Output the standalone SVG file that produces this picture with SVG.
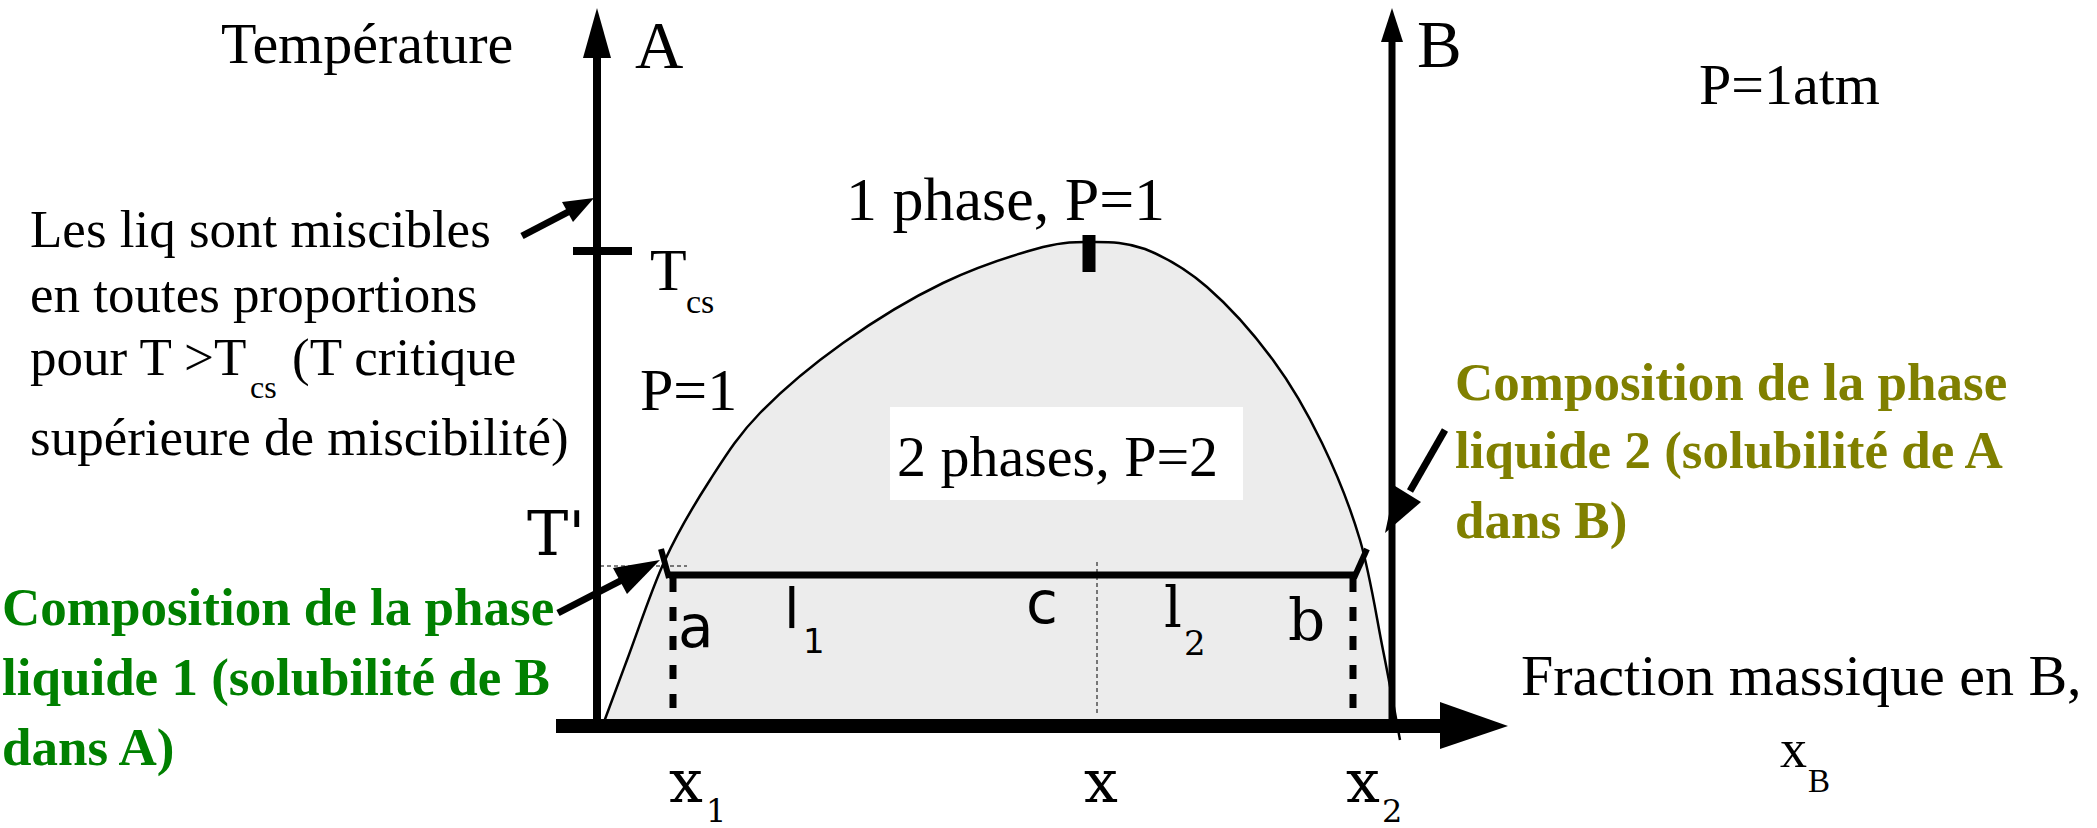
<svg xmlns="http://www.w3.org/2000/svg" width="2097" height="828" viewBox="0 0 2097 828">
<style>
.t{font-family:"Liberation Serif","Times New Roman",serif;fill:#000}
.bg{font-family:"Liberation Serif","Times New Roman",serif;font-weight:bold;font-size:53px}
.ds{font-family:"DejaVu Sans",sans-serif;fill:#000}
.dr{font-family:"DejaVu Serif",serif;fill:#000}
.ax{stroke:#000;fill:none}
</style>
<defs>
<path id="dome" d="M601,730 C605.3,718.3 616.3,688.3 627,660 C637.7,631.7 651.2,590 665,560 C678.8,530 694.2,504.5 710,480 C725.8,455.5 737.8,435.8 760,413 C782.2,390.2 812.5,364.7 843,343 C873.5,321.3 909.7,299 943,283 C976.3,267 1017.7,253.8 1043,247 C1068.3,241 1078.8,242 1095,242 C1111.2,242 1126.3,242.5 1145,249 C1163.7,256.5 1185.7,268.5 1207,287 C1228.3,305.5 1253.8,334 1273,360 C1292.2,386 1307.5,413 1322,443 C1336.5,473 1349.8,505.5 1360,540 C1370.2,574.5 1376.3,616.7 1383,650 C1389.7,683.3 1397.2,725 1400,740"/>
</defs>
<rect width="2097" height="828" fill="#fff"/>

<g id="region">
<path d="M601,730 C605.3,718.3 616.3,688.3 627,660 C637.7,631.7 651.2,590 665,560 C678.8,530 694.2,504.5 710,480 C725.8,455.5 737.8,435.8 760,413 C782.2,390.2 812.5,364.7 843,343 C873.5,321.3 909.7,299 943,283 C976.3,267 1017.7,253.8 1043,247 C1068.3,241 1078.8,242 1095,242 C1111.2,242 1126.3,242.5 1145,249 C1163.7,256.5 1185.7,268.5 1207,287 C1228.3,305.5 1253.8,334 1273,360 C1292.2,386 1307.5,413 1322,443 C1336.5,473 1349.8,505.5 1360,540 C1370.2,574.5 1376.3,616.7 1383,650 C1389.7,683.3 1397.2,725 1400,740 L1400,726 L601,726 Z" fill="#ececec" stroke="none"/>
<rect x="890" y="407" width="353" height="93" fill="#fff"/>
<use href="#dome" fill="none" stroke="#000" stroke-width="2.5"/>
</g>

<g id="axes">
<line class="ax" x1="597" y1="55" x2="597" y2="733" stroke-width="8"/>
<path d="M597,8 L611,58 L583,58 Z"/>
<line class="ax" x1="1392" y1="40" x2="1392" y2="733" stroke-width="7"/>
<path d="M1392,8 L1403,42 L1381,42 Z"/>
<line class="ax" x1="556" y1="726" x2="1442" y2="726" stroke-width="14"/>
<path d="M1440,702 L1508,726 L1440,749 Z"/>
</g>

<g id="ticks">
<line class="ax" x1="573" y1="251" x2="632" y2="251" stroke-width="8"/>
<line class="ax" x1="1089" y1="235" x2="1089" y2="272" stroke-width="13"/>
</g>

<g id="tieline">
<line class="ax" x1="600" y1="566" x2="687" y2="566" stroke-width="1" stroke-dasharray="4 3"/>
<line class="ax" x1="669" y1="575" x2="1355" y2="575" stroke-width="7"/>
<line class="ax" x1="661" y1="549" x2="669" y2="578" stroke-width="6"/>
<line class="ax" x1="1367" y1="549" x2="1354" y2="578" stroke-width="6"/>
<line class="ax" x1="673" y1="578" x2="673" y2="708" stroke-width="7" stroke-dasharray="14 15"/>
<line class="ax" x1="1353" y1="578" x2="1353" y2="708" stroke-width="7" stroke-dasharray="14 15"/>
<line class="ax" x1="1097" y1="562" x2="1097" y2="716" stroke-width="1" stroke-dasharray="4 3"/>
</g>

<g id="connectors">
<line class="ax" x1="522" y1="236" x2="570" y2="211" stroke-width="7"/>
<path d="M594,198 L573,222 L562,202 Z"/>
<line class="ax" x1="558" y1="613" x2="622" y2="580" stroke-width="7"/>
<path d="M660,560 L627,594 L613,568 Z"/>
<line class="ax" x1="1445" y1="430" x2="1410" y2="491" stroke-width="7"/>
<path d="M1385,533 L1395,486 L1421,502 Z"/>
</g>

<g id="labels">
<text class="t" x="221" y="63" font-size="58">Température</text>
<text class="t" x="635" y="68" font-size="67">A</text>
<text class="t" x="1417" y="67" font-size="67">B</text>
<text class="t" x="1699" y="104" font-size="58">P=1atm</text>
<text class="t" x="846" y="220" font-size="62">1 phase, P=1</text>
<text class="t" x="897" y="476" font-size="58">2 phases, P=2</text>
<text class="t" x="640" y="410" font-size="60">P=1</text>
<text class="t" x="650" y="290" font-size="60">T</text>
<text class="t" x="686" y="313" font-size="34">cs</text>
<text class="dr" x="527" y="555" font-size="62">T'</text>
</g>

<g id="note-miscible">
<text class="t" x="30" y="247" font-size="53">Les liq sont miscibles</text>
<text class="t" x="30" y="312" font-size="53">en toutes proportions</text>
<text class="t" x="30" y="375" font-size="53">pour T &gt;T</text>
<text class="t" x="250" y="398" font-size="32">cs</text>
<text class="t" x="292" y="375" font-size="53">(T critique</text>
<text class="t" x="30" y="455" font-size="53">supérieure de miscibilité)</text>
</g>

<g id="note-liquide1" fill="#008000">
<text class="bg" x="2" y="625">Composition de la phase</text>
<text class="bg" x="2" y="695">liquide 1 (solubilité de B</text>
<text class="bg" x="2" y="765">dans A)</text>
</g>

<g id="note-liquide2" fill="#808000">
<text class="bg" x="1455" y="400">Composition de la phase</text>
<text class="bg" x="1455" y="468">liquide 2 (solubilité de A</text>
<text class="bg" x="1455" y="538">dans B)</text>
</g>

<g id="tie-labels">
<text class="ds" x="678" y="647" font-size="58">a</text>
<text class="ds" x="784" y="628" font-size="56">l</text>
<text class="ds" x="803" y="653" font-size="34">1</text>
<text class="ds" x="1026" y="623" font-size="58">c</text>
<text class="dr" x="1164" y="627" font-size="56">l</text>
<text class="dr" x="1184" y="655" font-size="34">2</text>
<text class="dr" x="1288" y="640" font-size="58">b</text>
</g>

<g id="x-labels">
<text class="dr" x="669" y="802" font-size="60">x</text>
<text class="dr" x="706" y="822" font-size="32">1</text>
<text class="dr" x="1084" y="802" font-size="60">x</text>
<text class="dr" x="1346" y="802" font-size="60">x</text>
<text class="dr" x="1382" y="822" font-size="32">2</text>
<text class="t" x="1521" y="695" font-size="58">Fraction massique en B,</text>
<text class="t" x="1780" y="767" font-size="54">x</text>
<text class="t" x="1808" y="792" font-size="33">B</text>
</g>
</svg>
